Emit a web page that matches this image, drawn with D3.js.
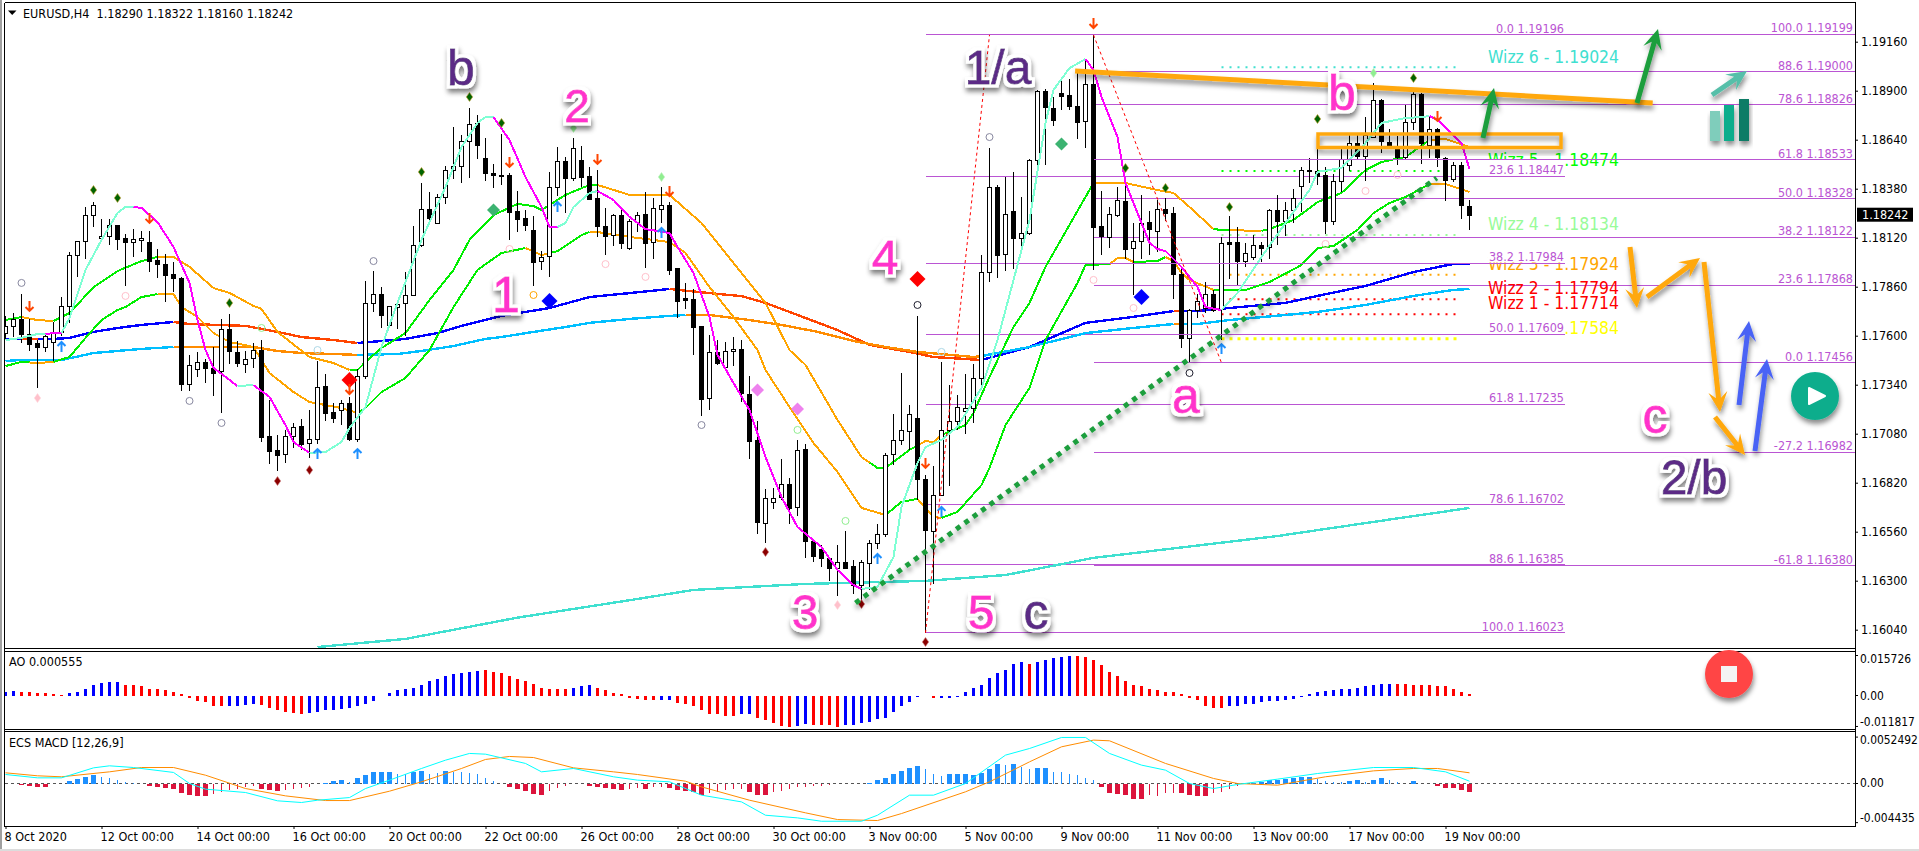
<!DOCTYPE html>
<html><head><meta charset="utf-8">
<script src="https://cdn.jsdelivr.net/npm/d3@7"></script>
<style>
html,body{margin:0;padding:0;background:#fff;overflow:hidden}
svg{position:absolute;left:0;top:0;display:block}
text{font-family:"DejaVu Sans Condensed","DejaVu Sans",sans-serif;font-stretch:condensed}
.ann{font-family:"Liberation Sans",Arial,sans-serif;font-stretch:normal}
</style></head><body>
<script>
// prices in points (price x 100000), one entry per H4 bar
const openPts=[117615,117647,117688,117608,117560,117541,117562,117615,117753,118026,
118100,118238,118116,118127,118185,118116,118095,118104,118097,118001,
117983,117925,117906,117344,117421,117459,117431,117410,117633,117516,
117451,117477,117524,117069,116994,116972,117069,117121,117031,117052,
117333,117195,117206,117243,117052,117386,117771,117819,117653,117755,
117771,117814,118079,118270,118196,118334,118477,118499,118631,118727,
118541,118461,118452,118452,118261,118222,118160,117997,118020,118387,
118525,118434,118532,118447,118328,118181,118130,118240,118066,118206,
118245,118095,118268,118293,117958,117799,117794,117650,117270,117512,
117435,117515,117527,117293,117044,116607,116720,116745,116815,116692,
116998,116513,116470,116423,116368,116400,116377,116276,116396,116502,
116550,116969,117044,117097,117161,116837,116566,116757,117102,117150,
117198,117217,117376,117936,118389,118030,118260,118117,118143,118530,
118897,118810,118888,118875,118819,118736,118936,118180,118122,118237,
118313,118062,118099,118203,118152,118270,118249,117925,117584,117734,
117743,117820,117740,118096,118096,117993,118016,118080,118067,118265,
118205,118265,118393,118479,118474,118451,118205,118419,118502,118621,
118555,118653,118849,118630,118600,118545,118732,118881,118610,118695,
118545,118430,118504,118290];
const highPts=[117704,117718,117819,117688,117576,117612,117674,117808,118042,118100,
118281,118307,118217,118217,118185,118137,118164,118153,118153,118060,
118031,117989,117909,117495,117511,117474,117539,117691,117713,117573,
117518,117559,117577,117259,117073,117100,117137,117158,117206,117466,
117397,117243,117259,117275,117423,117890,117943,117858,117755,117784,
117938,118182,118410,118362,118352,118500,118708,118663,118808,118769,
118649,118511,118670,118461,118367,118266,118234,118050,118468,118599,
118546,118649,118606,118496,118479,118275,118248,118266,118217,118256,
118362,118333,118390,118309,117958,117882,117850,117650,117602,117579,
117564,117593,117577,117385,117146,116785,116792,116945,116844,117046,
117028,116515,116488,116426,116492,116562,116408,116408,116515,116600,
116978,117184,117400,117230,117704,116863,116909,117460,117341,117285,
117396,117450,118028,118596,118398,118440,118467,118336,118536,118904,
118907,118865,118957,118960,118992,119066,119197,118366,118283,118387,
118419,118196,118345,118260,118320,118329,118281,117966,117743,117821,
117883,117843,118122,118235,118175,118090,118134,118099,118272,118347,
118311,118377,118493,118545,118674,118493,118456,118594,118665,118674,
118759,118939,118856,118695,118660,118824,118891,118886,118762,118702,
118550,118524,118524,118322];
const lowPts=[117585,117594,117559,117520,117323,117514,117467,117599,117665,117913,
118008,118178,118104,118081,118054,117863,118017,118045,117937,117906,
117780,117831,117307,117307,117382,117350,117281,117190,117451,117435,
117403,117430,117036,116919,116882,116924,117004,116994,116951,117025,
117148,117137,117127,117041,117036,117371,117725,117640,117646,117637,
117601,117814,118072,118210,118196,118299,118430,118412,118439,118539,
118423,118382,118399,118107,118149,118155,117863,117948,117912,118341,
118252,118422,118390,118321,118125,118027,118075,118061,118057,118151,
117960,118008,118199,117921,117695,117742,117496,117174,117208,117443,
117423,117439,117249,116946,116546,116500,116679,116727,116603,116642,
116421,116400,116373,116299,116219,116362,116231,116196,116249,116470,
116532,116913,117021,116996,116727,116023,116284,116754,116803,117099,
117077,117137,117312,117887,117908,117945,117952,118076,118132,118465,
118507,118713,118797,118797,118645,118596,117948,118030,118067,118230,
118007,117816,118009,118028,118042,118210,117796,117533,117462,117692,
117719,117728,117577,117899,117869,117963,118002,117993,118007,118081,
118131,118196,118258,118409,118400,118140,118187,118364,118476,118540,
118423,118653,118571,118600,118504,118532,118691,118511,118541,118493,
118316,118417,118218,118160];
const closePts=[117651,117686,117610,117557,117541,117599,117617,117755,118026,118100,
118238,118291,118127,118185,118109,118093,118111,118116,117998,117982,
117923,117902,117344,117447,117458,117429,117403,117633,117514,117456,
117477,117522,117062,116989,116967,117069,117116,117025,117052,117328,
117190,117163,117243,117052,117386,117771,117819,117706,117755,117769,
117814,118079,118270,118221,118334,118477,118499,118631,118722,118610,
118461,118449,118448,118257,118220,118183,117992,118020,118387,118525,
118433,118594,118441,118325,118178,118130,118238,118091,118208,118243,
118093,118275,118291,117949,117785,117788,117647,117264,117512,117456,
117518,117527,117292,117042,116607,116741,116741,116815,116686,116996,
116511,116435,116421,116368,116400,116366,116276,116400,116502,116550,
116969,117044,117097,117187,116835,116564,116757,117102,117150,117224,
117214,117376,117936,118387,118030,118244,118115,118143,118530,118897,
118810,118746,118874,118815,118736,118934,118178,118129,118244,118318,
118060,118101,118196,118166,118270,118247,117924,117584,117734,117782,
117819,117736,118090,118088,117993,118037,118080,118062,118265,118205,
118265,118329,118478,118472,118449,118205,118419,118536,118621,118554,
118665,118849,118630,118607,118545,118732,118881,118621,118695,118545,
118428,118504,118290,118242];

// moving averages, read at bar index / points
const fastIdx=[0,2,4,5,6,7,8,10,12,14,15,16,17,19,21,23,24,25,26,28,29,31,33,35,36,38,40,42,43,45,47,49,52,55,57,59,60,61,63,65,67,68,69,70,71,73,74,76,78,80,83,84,86,88,89,91,93,95,97,99,102,104,106,107,109,111,112,114,115,117,119,122,124,128,130,131,133,135,136,137,139,140,142,143,144,145,147,149,150,152,154,157,160,163,164,167,170,172,175,177,178,179,182,183];
const fastVal=[117577,117588,117609,117609,117614,117614,117694,117949,118108,118251,118283,118283,118278,118203,118071,117880,117683,117524,117429,117365,117333,117338,117275,117126,117036,116978,116983,117036,117110,117222,117540,117774,118108,118389,118601,118729,118760,118760,118638,118442,118283,118177,118177,118198,118283,118357,118368,118320,118230,118166,118145,118071,117933,117699,117498,117349,117206,116956,116744,116585,116479,116357,116277,116256,116267,116426,116691,116925,117009,117047,117116,117323,117577,118214,118729,118904,119020,119068,119010,118867,118654,118410,118198,118092,118060,118049,117965,117858,117752,117736,117827,118018,118198,118373,118469,118490,118622,118729,118755,118760,118766,118745,118622,118485];
const midIdx=[0,2,4,6,8,11,14,17,19,21,23,26,28,31,32,34,38,41,43,44,45,47,50,53,56,58,61,64,66,67,70,73,74,78,83,87,91,95,98,100,104,107,109,110,113,115,116,117,120,121,123,126,128,130,136,138,140,144,146,148,151,152,157,158,161,164,167,170,172,175,178,180,183];
const midVal=[117683,117699,117683,117678,117720,117858,117943,117996,118018,118018,117965,117853,117827,117758,117742,117620,117487,117455,117418,117418,117461,117535,117614,117789,117949,118108,118240,118299,118288,118267,118347,118400,118400,118347,118347,118198,117986,117774,117524,117445,117153,116956,116898,116898,116994,117041,117036,117073,117126,117190,117381,117646,117774,117965,118410,118410,118410,118373,118357,118283,118166,118161,118156,118166,118214,118309,118357,118479,118522,118548,118638,118644,118601];
const slowIdx=[0,2,4,6,8,10,12,14,15,17,19,21,22,24,26,28,31,33,36,38,42,44,45,47,50,53,56,59,62,65,67,69,72,73,74,78,83,85,88,91,94,95,98,101,104,107,110,112,114,116,117,119,122,123,125,128,130,134,135,138,139,140,141,144,145,146,147,148,151,155,158,162,164,166,169,171,173,175,178,180,183];
const slowVal=[117439,117461,117455,117461,117487,117588,117683,117736,117752,117805,117821,117821,117752,117699,117614,117567,117540,117402,117301,117248,117216,117190,117216,117301,117376,117524,117752,117949,118039,118065,118028,118049,118134,118150,118150,118124,118097,118039,117858,117699,117524,117418,117222,117031,116877,116686,116649,116718,116734,116638,116633,116665,116808,116898,117126,117323,117577,117880,117975,117980,118012,118012,117991,117996,118018,117996,117933,117896,117843,117843,117885,117975,118065,118076,118161,118251,118304,118336,118405,118405,118363];
const maHighIdx=[0,6,8,11,14,17,21,23,30,34,37,41,44,47,50,54,57,62,68,73,78,83,88,92,95,99,104,108,113,116,122,128,135,141,146,149,153,160,164,170,176,181,183];
const maHighVal=[117583,117583,117588,117620,117641,117657,117673,117662,117652,117620,117593,117577,117561,117572,117583,117614,117652,117705,117747,117805,117826,117848,117826,117810,117774,117710,117630,117551,117514,117487,117471,117540,117668,117700,117731,117731,117747,117774,117811,117864,117938,117981,117981];
const maLowIdx=[0,2,7,11,14,17,21,26,31,34,37,41,44,49,52,56,60,62,66,70,73,78,83,85,88,93,97,101,106,110,114,121,122,128,135,141,146,149,153,160,164,170,176,181,183];
const maLowVal=[117466,117471,117471,117508,117519,117530,117540,117540,117540,117519,117508,117503,117498,117503,117519,117545,117583,117593,117620,117646,117668,117689,117705,117710,117710,117683,117657,117625,117572,117540,117514,117487,117492,117540,117614,117641,117662,117662,117683,117710,117726,117763,117811,117843,117848];
const trendIdx=[39,50,64,79,86,100,115,125,136,159,171,183];
const trendVal=[115948,115991,116104,116203,116251,116283,116299,116330,116421,116537,116612,116686];

// colour phases of the two-colour averages: [from bar, to bar]
const fastDown=[[5,7],[16,29],[31,38],[61,69],[74,107],[135,152],[178,183]];
const midFall=[[2,6],[19,43],[74,108],[114,117],[136,151],[153,157],[178,183]];
const slowFall=[[3,6],[19,44],[65,68],[73,110],[114,117],[138,141],[145,151],[178,183]];
const highFall=[[2,4],[21,44],[83,122],[146,147]];
const lowFall=[[21,44],[85,122],[146,147]];

// fibonacci tools
const fibRetLevels=["0.0","23.6","38.2","50.0","61.8","78.6","88.6","100.0"];
const fibRetPrices=[1.19196,1.18447,1.17984,1.17609,1.17235,1.16702,1.16385,1.16023];
const fibExpLevels=["100.0","88.6","78.6","61.8","50.0","38.2","23.6","0.0","-27.2","-61.8"];
const fibExpPrices=[1.19199,1.19000,1.18826,1.18533,1.18328,1.18122,1.17868,1.17456,1.16982,1.16380];
const wizzNames=["Wizz 6","Wizz 5","Wizz 4","Wizz 3","Wizz 2","Wizz 1","Wizz 0"];
const wizzPrices=[1.19024,1.18474,1.18134,1.17924,1.17794,1.17714,1.17584];

// indicator marks: bar index / points
const darkGreenIdx=[11,14,28,52,58,62,140,145,153,164,176];
const darkGreenVal=[118373,118331,117774,118469,118867,118729,118490,118384,118283,118750,118967];
const darkRedIdx=[34,38,95,107,115];
const darkRedVal=[116829,116887,116452,116176,115975];
const pinkDiaIdx=[4,104];
const pinkDiaVal=[117269,116171];
const lightDiaIdx=[82,171,71];
const lightDiaVal=[118442,118994,118702];
const redBigIdx=[43,114];
const redBigVal=[117365,117901];
const blueBigIdx=[68,142];
const blueBigVal=[117784,117805];
const seaBigIdx=[61,132];
const seaBigVal=[118267,118617];
const violetIdx=[94,99];
const violetVal=[117312,117211];
const downIdx=[3,18,43,63,74,83,115,136,179];
const downVal=[117758,118225,117317,118522,118538,118368,116925,119259,118766];
const upIdx=[7,39,44,69,82,109,117,152];
const upVal=[117540,116972,116972,118283,118145,116415,116665,117529];
const greyRingIdx=[2,23,27,46,87,123];
const greyRingVal=[117880,117254,117137,117996,117126,118654];
const blackRingIdx=[114,148];
const blackRingVal=[117763,117402];
const pinkRingIdx=[15,63,75,80,136,141,165,170,174];
const pinkRingVal=[117811,118060,117980,117912,117896,117747,118087,118368,118453];
const orangeRingIdx=[66];
const orangeRingVal=[117816];
const greenRingIdx=[32,99,105];
const greenRingVal=[117641,117100,116617];
const blueRingIdx=[39,117];
const blueRingVal=[117524,117514];

// oscillators (values x 0.0001)
const aoValues=[15.5,18.1,15.5,15.5,7.8,7.8,3.9,2.6,7.8,15.5,25.8,38.8,47.8,50.4,50.4,42.6,38.8,34.9,27.1,24.5,19.4,15.5,6.5,-7.8,-19.4,-25.8,-38.8,-41.3,-38.8,-38.8,-36.2,-33.6,-34.9,-46.5,-55.6,-62,-68.5,-72.4,-68.5,-64.6,-58.1,-54.3,-51.7,-46.5,-41.3,-32.3,-19.4,-2.6,11.6,22,25.8,31,41.3,54.3,64.6,77.5,84,87.9,93,95.6,96.9,93,87.9,77.5,64.6,56.8,46.5,31,27.1,27.1,27.1,31,37.5,38.8,31,22,11.6,3.9,-10.3,-12.9,-15.5,-15.5,-15.5,-15.5,-28.4,-32.3,-42.6,-58.1,-69.8,-73.6,-77.5,-77.5,-72.4,-72.4,-85.3,-94.3,-107.2,-116.3,-120.2,-116.3,-109.8,-112.4,-112.4,-115,-120.2,-113.7,-112.4,-107.2,-103.4,-90.4,-85.3,-64.6,-42.6,-23.3,-3.9,-2.6,-7.8,-10.3,-7.8,-6.5,15.5,31,42.6,65.9,85.3,99.5,120.2,127.9,124,130.5,135.7,143.4,149.9,155,151.2,147.3,135.7,116.3,93,77.5,58.1,38.8,34.9,25.8,19.4,15.5,15.5,5.2,-9,-15.5,-38.8,-47.8,-49.1,-42.6,-38.8,-33.6,-32.3,-23.3,-20.7,-20.7,-15.5,-12.9,-3.9,6.5,14.2,18.1,22,25.8,25.8,28.4,34.9,42.6,45.2,45.2,45.2,45.2,42.6,41.3,38.8,37.5,34.9,23.3,15.5,5.55];
const aoRed=[[2,7],[15,27],[32,37],[60,70],[74,81],[84,91],[94,98],[101,104],[115,116],[128,128],[134,152],[174,183]];
const macdHist=[-.4,-.4,-1.9,-2.3,-3.8,-3.8,-1.1,-.4,2.3,4.9,7.2,9.4,7.2,5.7,3.4,1.9,.4,0,-2.6,-3.8,-4.9,-6,-10.6,-12.8,-14,-14,-11.7,-9.4,-7.6,-5.7,-4.2,-3,-5.7,-7.9,-8.3,-7.6,-6,-5.3,-4.2,-1.1,1.1,2.3,3.4,1.9,6,9.4,12.5,12.8,12.8,10.2,10.2,13.2,14.3,11.3,12.1,14.3,13.2,12.5,11.7,10.2,5.7,2.6,0,-3.8,-6,-9,-12.1,-13.2,-8.3,-4.9,-2.6,-.8,-.4,-2.6,-4.2,-4.9,-5.7,-7.2,-5.7,-4.9,-6.4,-4.2,-3.4,-4.9,-7.2,-8.7,-9.4,-13.2,-11.3,-9.4,-7.6,-6.4,-6.4,-9.4,-12.8,-12.8,-9.4,-8.7,-5.7,-3.8,-3.4,-2.6,-2.6,-1.9,-1.1,-.8,-.4,0,.4,3.4,6,10.2,14.7,17,19.3,16.2,11.3,8.7,10.6,10.6,10.6,9.4,11.7,15.9,21.9,20.8,21.9,18.9,15.9,18.1,18.1,13.2,12.8,11.3,9.4,5.7,3.4,-4.2,-10.6,-11.7,-13.2,-17.7,-17.7,-13.2,-14,-10.9,-10.2,-10.2,-12.5,-14,-14,-10.2,-9.4,-5.7,-2.6,-1.1,.4,1.9,4.5,4.5,4.9,5.7,7.2,7.2,4.9,2.6,1.9,1.9,3,4.2,1.9,3.4,5.7,3.4,1.9,0,2.3,-.8,-.8,-2.3,-4.9,-5.3,-7.2,-9.4];
const macdThick=[[2,5],[8,11],[18,25],[32,34],[40,42],[44,48],[51,52],[55,55],[63,67],[73,77],[80,80],[83,87],[93,95],[108,114],[118,124],[126,126],[129,130],[137,142],[147,150],[156,163],[168,169],[171,172],[176,176],[178,183]];
const macdFastIdx=[0,4,7,11,13,16,21,23,25,30,34,37,39,43,45,48,52,55,58,60,65,67,71,76,79,83,87,92,95,99,102,107,109,113,116,120,125,128,132,135,138,142,145,148,151,154,159,164,171,176,180,183];
const macdFastVal=[10.2,6.4,6.4,17.7,20,18.1,12.5,0,-6.4,-10.2,-19.6,-21.5,-18.9,-15.9,-5.7,3.8,17,26.4,34,33.2,22.7,13.2,17,7.6,3.8,1.9,-13.2,-20.8,-35.9,-38.9,-42.7,-42.7,-35.9,-13.2,-13.2,0,32.1,39.6,52.1,52.1,34,20.8,15.1,0,-5.7,-1.1,4.9,11.3,18.1,18.1,13.2,2.6];
const macdSlowIdx=[0,4,7,13,17,21,25,30,35,40,43,48,52,57,60,63,66,71,76,79,85,87,93,100,104,109,112,120,123,128,132,136,138,145,151,154,159,165,171,176,179,183];
const macdSlowVal=[12.1,8.7,7.6,13.2,18.1,18.1,9.4,-5.7,-14,-19.3,-19.3,-8.7,1.9,17,27.2,30.6,29.4,17.7,13.2,10.2,2.6,-3.8,-18.9,-33.2,-40.8,-41.9,-34,-9.4,1.9,24.5,41.5,49.1,48.3,22.7,5.7,0,-1.9,7.6,14.3,17,17,12.1];

// axes
const priceTicks=[1.19160,1.18900,1.18640,1.18380,1.18120,1.17860,1.17600,1.17340,1.17080,1.16820,1.16560,1.16300,1.16040];
const timeTickBars=[0,12,24,36,48,60,72,84,96,108,120,132,144,156,168,180];
const timeTickLabels=["8 Oct 2020","12 Oct 00:00","14 Oct 00:00","16 Oct 00:00","20 Oct 00:00","22 Oct 00:00","26 Oct 00:00","28 Oct 00:00","30 Oct 00:00","3 Nov 00:00","5 Nov 00:00","9 Nov 00:00","11 Nov 00:00","13 Nov 00:00","17 Nov 00:00","19 Nov 00:00"];
const lastPrice=1.18242;

// ---------------- layout --------------
const W=1919,H=851,L=5,R=1855;
const main={t:3,b:648},aoP={t:652,b:729},mP={t:732,b:826};
const inRange=(i,rs)=>rs.some(r=>i>=r[0]&&i<=r[1]);
const svg=d3.select("body").append("svg").attr("width",W).attr("height",H).attr("viewBox",`0 0 ${W} ${H}`);
const defs=svg.append("defs");
defs.append("clipPath").attr("id","cm").append("rect").attr("x",L).attr("y",main.t).attr("width",R-L).attr("height",main.b-main.t);
defs.append("clipPath").attr("id","cmf").append("rect").attr("x",L).attr("y",aoP.t).attr("width",R-L).attr("height",mP.b-aoP.t);
const sh=defs.append("filter").attr("id","shadow").attr("x","-30%").attr("y","-30%").attr("width","170%").attr("height","190%");
sh.append("feDropShadow").attr("dx",1).attr("dy",4).attr("stdDeviation",2.5).attr("flood-color","#000").attr("flood-opacity",.45);
const hl=defs.append("filter").attr("id","halo").attr("x","-40%").attr("y","-40%").attr("width","180%").attr("height","200%");
hl.append("feMorphology").attr("in","SourceAlpha").attr("operator","dilate").attr("radius",3).attr("result","d");
hl.append("feGaussianBlur").attr("in","d").attr("stdDeviation",.6).attr("result","db");
hl.append("feFlood").attr("flood-color","#fff").attr("result","w");
hl.append("feComposite").attr("in","w").attr("in2","db").attr("operator","in").attr("result","white");
hl.append("feOffset").attr("in","db").attr("dx",1).attr("dy",4).attr("result","o");
hl.append("feGaussianBlur").attr("in","o").attr("stdDeviation",2.5).attr("result","ob");
hl.append("feFlood").attr("flood-color","#000").attr("flood-opacity",.5).attr("result","k");
hl.append("feComposite").attr("in","k").attr("in2","ob").attr("operator","in").attr("result","shadow");
const hm=hl.append("feMerge");
["shadow","white","SourceGraphic"].forEach(n=>hm.append("feMergeNode").attr("in",n));

const x=d3.scaleLinear().domain([0,183]).range([5.5,5.5+8*183]);
const y=d3.scaleLinear().domain([1.19160,1.16040]).range([41.7,629.7]);
const yp=v=>y(v/1e5);
const yAO=d3.scaleLinear().domain([0,155]).range([695.5,695.5-40]);
const yM=d3.scaleLinear().domain([0,52.5]).range([783.5,783.5-46.4]);

// frame
svg.append("rect").attr("x",0).attr("y",0).attr("width",2).attr("height",H).attr("fill","#a0a0a0");
svg.append("rect").attr("x",0).attr("y",H-2).attr("width",W).attr("height",2).attr("fill","#dcdcdc");
const frame=svg.append("g").attr("stroke","#000").attr("stroke-width",1).attr("shape-rendering","crispEdges");
[[4.5,2.5,4.5,826.5],[4.5,2.5,R+.5,2.5],[R+.5,2.5,R+.5,826.5],[4.5,648.5,R+.5,648.5],[4.5,651.5,R+.5,651.5],[4.5,729.5,R+.5,729.5],[4.5,731.5,R+.5,731.5],[4.5,826.5,R+.5,826.5]]
 .forEach(s=>frame.append("line").attr("x1",s[0]).attr("y1",s[1]).attr("x2",s[2]).attr("y2",s[3]));

const mg=svg.append("g").attr("clip-path","url(#cm)");
// fib lines
const fib="#BA55D3";
const fibG=mg.append("g").attr("stroke",fib).attr("stroke-width",1).attr("shape-rendering","crispEdges");
fibRetPrices.forEach(p=>fibG.append("line").attr("x1",x(115)).attr("x2",x(194.9)).attr("y1",y(p)).attr("y2",y(p)));
fibExpPrices.forEach(p=>fibG.append("line").attr("x1",x(136)).attr("x2",R).attr("y1",y(p)).attr("y2",y(p)));

// wizz dotted levels
const wizzColors=["#40E0D0","#00FF00","#98FB98","#FFA500","#FF0000","#FF0000","#FFFF00"];
wizzPrices.forEach((p,k)=>mg.append("line").attr("x1",x(152)).attr("x2",x(182)).attr("y1",y(p)).attr("y2",y(p))
  .attr("stroke",wizzColors[k]).attr("stroke-width",k==6?3:2).attr("stroke-dasharray",k==6?"3 5":"2 6"));

// averages
const lineGen=d3.line().x(d=>x(d[0])).y(d=>yp(d[1]));
function twoTone(idx,val,alt,c1,c2,w){
  const f=d3.scaleLinear().domain(idx).range(val);
  const draw=(a,b,c)=>{ if(b<=a) return;
    const pts=[[a,f(a)]].concat(idx.map((t,i)=>[t,val[i]]).filter(d=>d[0]>a&&d[0]<b),[[b,f(b)]]);
    mg.append("path").attr("d",lineGen(pts)).attr("fill","none").attr("stroke",c).attr("stroke-width",w).attr("shape-rendering","crispEdges");};
  let s=idx[0];
  alt.forEach(r=>{draw(s,r[0],c1);draw(r[0],r[1],c2);s=r[1];});
  draw(s,idx[idx.length-1],c1);
}
twoTone(maHighIdx,maHighVal,highFall,"#0000FF","#FF4500",2.4);
twoTone(maLowIdx,maLowVal,lowFall,"#00BFFF","#FF8C00",2.4);
twoTone(trendIdx,trendVal,[],"#40E0D0","#40E0D0",2.4);
twoTone(slowIdx,slowVal,slowFall,"#00EE00","#FFA500",2);
twoTone(midIdx,midVal,midFall,"#00EE00","#FFA500",2);

// candles
const bars=d3.range(openPts.length);
const cG=mg.append("g").attr("shape-rendering","crispEdges");
cG.selectAll("line").data(bars).join("line").attr("x1",x).attr("x2",x).attr("y1",i=>yp(highPts[i])).attr("y2",i=>yp(lowPts[i])).attr("stroke","#000");
cG.selectAll("rect").data(bars).join("rect").attr("x",i=>x(i)-2).attr("width",4)
 .attr("y",i=>Math.round(yp(Math.max(openPts[i],closePts[i])))+.5)
 .attr("height",i=>Math.max(1,Math.round(Math.abs(yp(openPts[i])-yp(closePts[i])))))
 .attr("fill",i=>closePts[i]>=openPts[i]?"#fff":"#000").attr("stroke","#000");
// fast average sits on top of the bars in the reference
twoTone(fastIdx,fastVal,fastDown,"#7FFFD4","#FF00FF",2);

// marks
function marks(idx,val,fn){idx.forEach((t,k)=>fn(mg.append("g").attr("transform",`translate(${x(t)},${yp(val[k])})`)));}
const dia=(r,rx)=>`M0,${-r}L${rx},0L0,${r}L${-rx},0Z`;
const sD=(c,ec)=>g=>g.append("path").attr("d",dia(4.5,3.2)).attr("fill",c).attr("stroke",ec).attr("stroke-width",.6);
const bD=(c,r)=>g=>g.append("path").attr("d",dia(r,r)).attr("fill",c);
marks(darkGreenIdx,darkGreenVal,sD("#006400","#C8A030"));
marks(darkRedIdx,darkRedVal,sD("#8B0000","#D08080"));
marks(pinkDiaIdx,pinkDiaVal,sD("#FFC0CB","#FFD8DE"));
marks(lightDiaIdx,lightDiaVal,sD("#90EE90","#C0F0C0"));
marks(redBigIdx,redBigVal,bD("#FF0000",8));
marks(blueBigIdx,blueBigVal,bD("#0000FF",8));
marks(seaBigIdx,seaBigVal,bD("#3CB371",6.5));
marks(violetIdx,violetVal,bD("#EE82EE",6.5));
const arrowMark=(c,s)=>g=>g.append("path").attr("d",`M0,${-5*s}V${5*s}M-4,${1*s}L0,${5*s}L4,${1*s}`).attr("fill","none").attr("stroke",c).attr("stroke-width",2);
marks(downIdx,downVal,arrowMark("#FF4500",1));
marks(upIdx,upVal,arrowMark("#1E90FF",-1));
const ring=c=>g=>g.append("circle").attr("r",3.5).attr("fill","none").attr("stroke",c).attr("stroke-width",1);
marks(greyRingIdx,greyRingVal,ring("#8888a0"));
marks(blackRingIdx,blackRingVal,ring("#202030"));
marks(pinkRingIdx,pinkRingVal,ring("#FFC0CB"));
marks(orangeRingIdx,orangeRingVal,ring("#FFA500"));
marks(greenRingIdx,greenRingVal,ring("#90EE90"));
marks(blueRingIdx,blueRingVal,ring("#ADD8E6"));

// fib trend (dashed) lines
const fibTrend=[[115,116023,123,119196],[136,119196,152,117456]];
fibTrend.forEach(s=>mg.append("line").attr("x1",x(s[0])).attr("y1",yp(s[1])).attr("x2",x(s[2])).attr("y2",yp(s[3])).attr("stroke","#FF0000").attr("stroke-dasharray","3 3"));

// Wizz labels and the fib label boxes that partly hide them
const wizzLabelY=[57,160,224,264,288,303,328];
wizzNames.forEach((n,k)=>mg.append("text").attr("x",1619).attr("y",wizzLabelY[k]).attr("text-anchor","end").attr("dominant-baseline","central")
  .attr("font-size",17.4).attr("fill",wizzColors[k]).text(`${n} - ${wizzPrices[k].toFixed(5)}`));
[[159.7,16],[245,17.5],[316,18]].forEach(b=>mg.append("rect").attr("x",1488).attr("y",b[0]).attr("width",76.5).attr("height",b[1]).attr("fill","#fff"));
[1.18533,1.17984,1.17609].forEach(p=>mg.append("line").attr("x1",x(136)).attr("x2",p==1.18533?R:x(194.9)).attr("y1",y(p)).attr("y2",y(p)).attr("stroke",fib).attr("shape-rendering","crispEdges"));
fibRetPrices.forEach((p,k)=>mg.append("text").attr("x",1564).attr("y",y(p)-6.5).attr("text-anchor","end").attr("dominant-baseline","central").attr("font-size",12.5).attr("fill",fib).text(`${fibRetLevels[k]} ${p.toFixed(5)}`));
fibExpPrices.forEach((p,k)=>mg.append("text").attr("x",1853).attr("y",y(p)-6.5).attr("text-anchor","end").attr("dominant-baseline","central").attr("font-size",12.5).attr("fill",fib).text(`${fibExpLevels[k]} ${p.toFixed(5)}`));

// AO
const oG=svg.append("g").attr("clip-path","url(#cmf)").attr("shape-rendering","crispEdges");
oG.selectAll("rect.ao").data(bars).join("rect").attr("class","ao").attr("x",i=>x(i)-1.5).attr("width",3)
 .attr("y",i=>Math.min(yAO(aoValues[i]),yAO(0))).attr("height",i=>Math.abs(yAO(aoValues[i])-yAO(0)))
 .attr("fill",i=>inRange(i,aoRed)?"#FF0000":"#0000FF");
// MACD
oG.append("line").attr("x1",L).attr("x2",R).attr("y1",yM(0)).attr("y2",yM(0)).attr("stroke","#555").attr("stroke-dasharray","3 3");
oG.selectAll("rect.mh").data(bars).join("rect").attr("class","mh")
 .attr("x",i=>inRange(i,macdThick)?x(i)-2.5:x(i)-.5).attr("width",i=>inRange(i,macdThick)?5:1)
 .attr("y",i=>Math.min(yM(macdHist[i]),yM(0))).attr("height",i=>Math.abs(yM(macdHist[i])-yM(0)))
 .attr("fill",i=>macdHist[i]>=0?"#1E90FF":"#DC143C");
const mLine=d3.line().x(d=>x(d[0])).y(d=>yM(d[1]));
svg.append("path").attr("d",mLine(macdSlowIdx.map((t,k)=>[t,macdSlowVal[k]]))).attr("fill","none").attr("stroke","#FF8C00");
svg.append("path").attr("d",mLine(macdFastIdx.map((t,k)=>[t,macdFastVal[k]]))).attr("fill","none").attr("stroke","#00FFFF");

// annotations: pixel layout of hand-drawn objects
const trendOrange=[133.7,119005,205.9,118835];
const trendGreen=[106.25,116182,178.9,118437];
const antG=svg.append("g").attr("clip-path","url(#cm)");
antG.append("line").attr("x1",x(trendGreen[0])).attr("y1",yp(trendGreen[1])).attr("x2",x(trendGreen[2])).attr("y2",yp(trendGreen[3]))
 .attr("stroke","#1E9E3E").attr("stroke-width",5).attr("stroke-dasharray","5 5.4").attr("filter","url(#shadow)");
antG.append("line").attr("x1",x(trendOrange[0])).attr("y1",yp(trendOrange[1])).attr("x2",x(trendOrange[2])).attr("y2",yp(trendOrange[3]))
 .attr("stroke","#FFA80A").attr("stroke-width",5).attr("filter","url(#shadow)");
antG.append("rect").attr("x",1318).attr("y",134).attr("width",243).attr("height",13.5).attr("fill","none").attr("stroke","#FFA80A").attr("stroke-width",3.5).attr("filter","url(#shadow)");

function fatArrow(x1,y1,x2,y2,c){
  const a=Math.atan2(y2-y1,x2-x1),ca=Math.cos(a),sa=Math.sin(a),hl=20,hw=9.5,nb=14;
  const P=(l,w)=>[x2-ca*l-sa*w,y2-sa*l+ca*w];
  const pts=[[x2,y2],P(hl,hw),P(nb,2.5),[x1-sa*2.5,y1+ca*2.5],[x1+sa*2.5,y1-ca*2.5],P(nb,-2.5),P(hl,-hw)];
  antG.append("path").attr("d","M"+pts.map(p=>p.join(",")).join("L")+"Z").attr("fill",c).attr("filter","url(#shadow)");
}
[[1483,138,1494,88,"#1E9E3E"],[1637,103,1658,29,"#1E9E3E"],[1712,95,1747,71,"#57BFA9"],
 [1630,247,1637,308,"#FFA80A"],[1647,297,1700,258,"#FFA80A"],[1704,262,1720,412,"#FFA80A"],[1715,417,1745,455,"#FFA80A"],
 [1739,405,1749,321,"#4A63F5"],[1755,451,1767,359,"#4A63F5"]].forEach(a=>fatArrow(...a));
[[1710,111,"#7FCDBB"],[1724,105,"#09AD8C"],[1739,99,"#0A7B66"]].forEach(b=>antG.append("rect").attr("x",b[0]).attr("y",b[1]).attr("width",10).attr("height",141-b[1]).attr("fill",b[2]).attr("filter","url(#shadow)"));

const play=antG.append("g").attr("transform","translate(1815,396)");
play.append("circle").attr("r",24).attr("fill","#09AD8C").attr("filter","url(#shadow)");
play.append("path").attr("d","M-6,-8L10,0L-6,8Z").attr("fill","#fff").attr("stroke","#fff").attr("stroke-linejoin","round").attr("stroke-width",2);
const stopG=svg.append("g").attr("transform","translate(1729,674)");
stopG.append("circle").attr("r",24).attr("fill","#FF4444").attr("filter","url(#shadow)");
stopG.append("rect").attr("x",-8).attr("y",-8).attr("width",16).attr("height",16).attr("fill","#F4F4F4");

const pink="#FF33CC",purple="#5B2A86";
const waveLabels=[["b",461,68,purple,50],["2",577,106,pink,46],["1",506,295,pink,50],["4",885,257,pink,48],["3",805,612,pink,48],["5",981,612,pink,48],["c",1036,612,purple,50],["1/a",998,67,purple,48],["a",1186,396,pink,50],["b",1342,93,pink,50],["c",1655,416,pink,50],["2/b",1694,477,purple,48]];
waveLabels.forEach(t=>svg.append("text").attr("class","ann").attr("x",t[1]).attr("y",t[2]).attr("text-anchor","middle").attr("dominant-baseline","central")
 .attr("font-size",t[4]).attr("fill",t[3]).attr("stroke",t[3]).attr("stroke-width",.8).attr("filter","url(#halo)").text(t[0]));

// axes
const ax=svg.append("g").attr("transform",`translate(${R},0)`).attr("font-size",12.5)
 .call(d3.axisRight(y).tickValues(priceTicks).tickFormat(d3.format(".5f")).tickSize(3).tickPadding(3));
ax.select(".domain").remove();
ax.selectAll("text").attr("font-family",null).attr("fill","#000").attr("font-size",12.5);
ax.attr("font-family",null);
const tAx=svg.append("g").attr("transform",`translate(0,${mP.b})`)
 .call(d3.axisBottom(x).tickValues(timeTickBars).tickFormat((d,i)=>timeTickLabels[i]).tickSize(3).tickPadding(3));
tAx.attr("font-family",null).attr("font-size",12.5);
tAx.select(".domain").remove();
tAx.selectAll("text").attr("text-anchor","start").attr("x",-1.5).attr("y",6).attr("fill","#000");

const side=(txt,yy)=>{svg.append("text").attr("x",1860).attr("y",yy).attr("dominant-baseline","central").attr("font-size",11.9).text(txt);};
const aoLabels=[["0.015726",.015726,659],["0.00",0,695.7],["-0.011817",-.011817,721.7]];
const mLabels=[["0.0052492",.0052492,740],["0.00",0,783.3],["-0.004435",-.004435,818]];
aoLabels.concat(mLabels).forEach(l=>{side(l[0],l[2]);});
[yAO(155),yAO(0),yAO(-120),yM(52.5),yM(0),yM(-44.3)].forEach(v=>svg.append("line").attr("x1",R).attr("x2",R+3).attr("y1",v).attr("y2",v).attr("stroke","#000"));

// current price
svg.append("rect").attr("x",R+2).attr("y",y(lastPrice)-7).attr("width",56).attr("height",14).attr("fill","#000");
svg.append("text").attr("x",1862).attr("y",y(lastPrice)).attr("dominant-baseline","central").attr("font-size",12.5).attr("fill","#fff").text(lastPrice.toFixed(5));

// titles
svg.append("path").attr("d","M8,10.5L16.5,10.5L12.2,15Z").attr("fill","#000");
svg.append("text").attr("x",23).attr("y",13).attr("dominant-baseline","central").attr("font-size",12.5).attr("xml:space","preserve").text("EURUSD,H4  1.18290 1.18322 1.18160 1.18242");
svg.append("text").attr("x",9).attr("y",661.5).attr("dominant-baseline","central").attr("font-size",12.5).text("AO 0.000555");
svg.append("text").attr("x",9).attr("y",742.5).attr("dominant-baseline","central").attr("font-size",12.5).text("ECS MACD [12,26,9]");
</script>
</body></html>
